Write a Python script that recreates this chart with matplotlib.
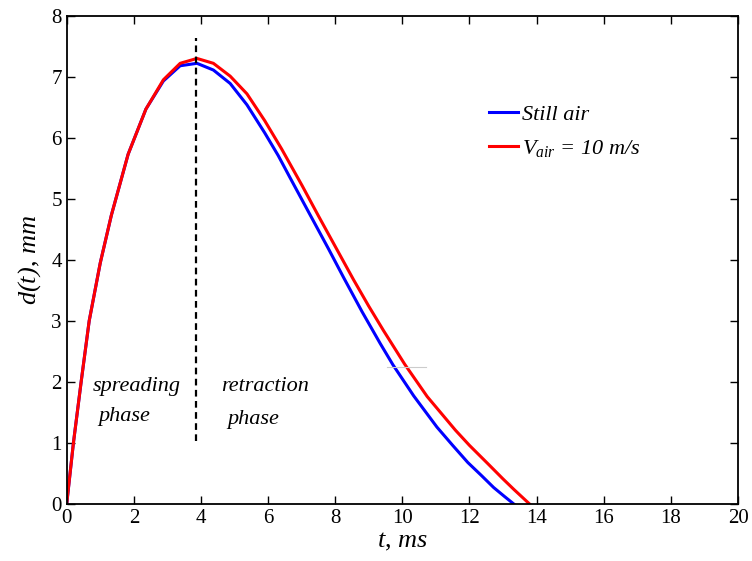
import matplotlib.pyplot as plt
import numpy as np

plt.rcParams['font.family'] = ['Liberation Serif', 'DejaVu Serif']
plt.rcParams['mathtext.fontset'] = 'custom'
plt.rcParams['mathtext.it'] = 'Liberation Serif:italic'
plt.rcParams['mathtext.rm'] = 'Liberation Serif:italic'

# still air
t_still = [0, 0.2, 0.43, 0.67, 1.0, 1.33, 1.83, 2.36, 2.88, 3.38, 3.88, 4.37,
           4.87, 5.37, 5.9, 6.3, 6.66, 7.2, 7.80, 8.25, 8.8, 9.34, 9.72, 10.34,
           11.03, 11.5, 11.95, 12.35, 12.72, 13.05, 13.32]
d_still = [0, 1.0, 2.0, 3.0, 3.95, 4.73, 5.73, 6.47, 6.93, 7.18, 7.22, 7.11,
           6.89, 6.54, 6.08, 5.71, 5.34, 4.79, 4.18, 3.71, 3.15, 2.63, 2.28, 1.77,
           1.26, 0.96, 0.68, 0.47, 0.27, 0.12, 0.0]

# V_air = 10 m/s
t_air = [0, 0.2, 0.43, 0.67, 1.0, 1.33, 1.83, 2.36, 2.88, 3.38, 3.88, 4.37,
         4.87, 5.37, 5.9, 6.4, 7.01, 7.5, 8.05, 8.55, 9.0, 9.44, 10.07, 10.74,
         11.58, 12.0, 12.53, 13.0, 13.32, 13.79]
d_air = [0, 1.0, 2.0, 3.0, 3.95, 4.73, 5.73, 6.47, 6.95, 7.22, 7.30, 7.22,
         7.01, 6.72, 6.28, 5.82, 5.22, 4.72, 4.17, 3.67, 3.24, 2.84, 2.29, 1.76,
         1.21, 0.96, 0.67, 0.41, 0.24, 0.0]

t_split = 3.85
split_range = [1.03, 7.64]

fig = plt.figure(figsize=(7.52, 5.61), dpi=100)
ax = fig.add_axes([0.0887, 0.1016, 0.8927, 0.8704])

ax.plot(t_still, d_still, '-', color='#0000ff', lw=2.2, label='Still air')
ax.plot(t_air, d_air, '-', color='#ff0000', lw=2.2, label='$V_{air}$ = 10 m/s')
ax.plot([t_split, t_split], split_range, '--', color='black', lw=1.6, dashes=(3, 2))

# faint stray line in the original
ax.plot([9.53, 10.69], [2.25, 2.25], color='#cccccc', lw=0.8)

ax.text(2.08, 1.93, 'spreading', style='italic', fontsize=16, ha='center', va='center')
ax.text(1.71, 1.43, 'phase', style='italic', fontsize=16, ha='center', va='center')
ax.text(5.92, 1.92, 'retraction', style='italic', fontsize=16, ha='center', va='center')
ax.text(5.55, 1.38, 'phase', style='italic', fontsize=16, ha='center', va='center')

ax.set_xlim(0, 20)
ax.set_ylim(0, 8)
ax.set_xticks(np.arange(0, 21, 2))
ax.set_yticks(np.arange(0, 9, 1))
ax.tick_params(direction='in', length=6, width=1, top=True, right=True, labelsize=15)
for s in ax.spines.values():
    s.set_linewidth(1.3)

ax.set_xlabel('$t$, $ms$', fontsize=19, labelpad=2)
ax.set_ylabel('$d(t)$, $mm$', fontsize=19, labelpad=6)

leg = ax.legend(loc='upper left', bbox_to_anchor=(0.6, 0.86), frameon=False,
                prop={'style': 'italic', 'size': 16},
                handlelength=1.3, handletextpad=0.15, labelspacing=0.6)

fig.savefig('out.png', dpi=100)
